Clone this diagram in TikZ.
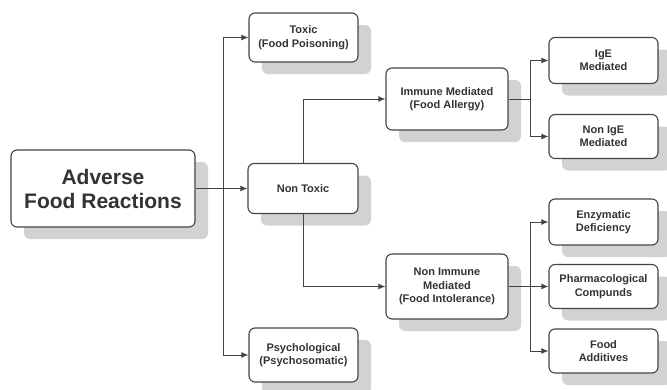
\documentclass[tikz,border=0pt]{standalone}
\usepackage{fontspec}
\setmainfont{Liberation Sans}
\usetikzlibrary{arrows.meta,shadows}
\definecolor{boxline}{HTML}{444444}
\definecolor{txt}{HTML}{333333}
\definecolor{shade}{HTML}{D2D2D2}
\tikzset{
  box/.style={draw=boxline, line width=1.1pt, rounded corners=6pt, fill=white,
    align=center, font=\bfseries\fontsize{11}{13.5}\selectfont, text=txt,
    inner sep=2pt,
    drop shadow={shadow xshift=13pt, shadow yshift=-12pt, fill=shade, opacity=1}},
  conn/.style={draw=boxline, line width=1pt},
  arr/.style={conn, -{Latex[length=7pt,width=6pt]}},
}
\begin{document}
\begin{tikzpicture}[x=1pt,y=-1pt]
\useasboundingbox (0,0) rectangle (667,389);
\node[box, minimum width=184pt, minimum height=77pt, font=\bfseries\fontsize{21}{24}\selectfont] (adv) at (103,188.5) {Adverse\\Food Reactions};
\node[box, minimum width=109pt, minimum height=49pt] (tox) at (303.5,37.5) {Toxic\\(Food Poisoning)};
\node[box, minimum width=110pt, minimum height=50pt] (nt) at (303,188.5) {Non Toxic};
\node[box, minimum width=109pt, minimum height=54pt] (psy) at (303.5,355) {Psychological\\(Psychosomatic)};
\node[box, minimum width=122pt, minimum height=62pt] (im) at (447,99) {Immune Mediated\\(Food Allergy)};
\node[box, minimum width=122pt, minimum height=65pt] (nim) at (447,286.5) {Non Immune\\Mediated\\(Food Intolerance)};
\node[box, minimum width=109pt, minimum height=46pt] (ige) at (603.5,60.5) {IgE\\Mediated};
\node[box, minimum width=109pt, minimum height=44pt] (nige) at (603.5,136.5) {Non IgE\\Mediated};
\node[box, minimum width=109pt, minimum height=46pt] (enz) at (603.5,222) {Enzymatic\\Deficiency};
\node[box, minimum width=109pt, minimum height=44pt] (pha) at (603.5,286.5) {Pharmacological\\Compunds};
\node[box, minimum width=109pt, minimum height=44pt] (add) at (603.5,351) {Food\\Additives};
\coordinate (j1) at (223,188.5);
\coordinate (j2) at (530,99);
\coordinate (j3) at (530,286.5);
\draw[arr] (adv.east) -- (nt.west);
\draw[arr] (j1) |- (tox.west);
\draw[arr] (j1) |- (psy.west);
\draw[arr] (nt.north) |- (im.west);
\draw[arr] (nt.south) |- (nim.west);
\draw[conn] (im.east) -- (j2);
\draw[arr] (j2) |- (ige.west);
\draw[arr] (j2) |- (nige.west);
\draw[conn] (nim.east) -- (j3);
\draw[arr] (j3) |- (enz.west);
\draw[arr] (j3) -- (pha.west);
\draw[arr] (j3) |- (add.west);
\end{tikzpicture}
\end{document}
